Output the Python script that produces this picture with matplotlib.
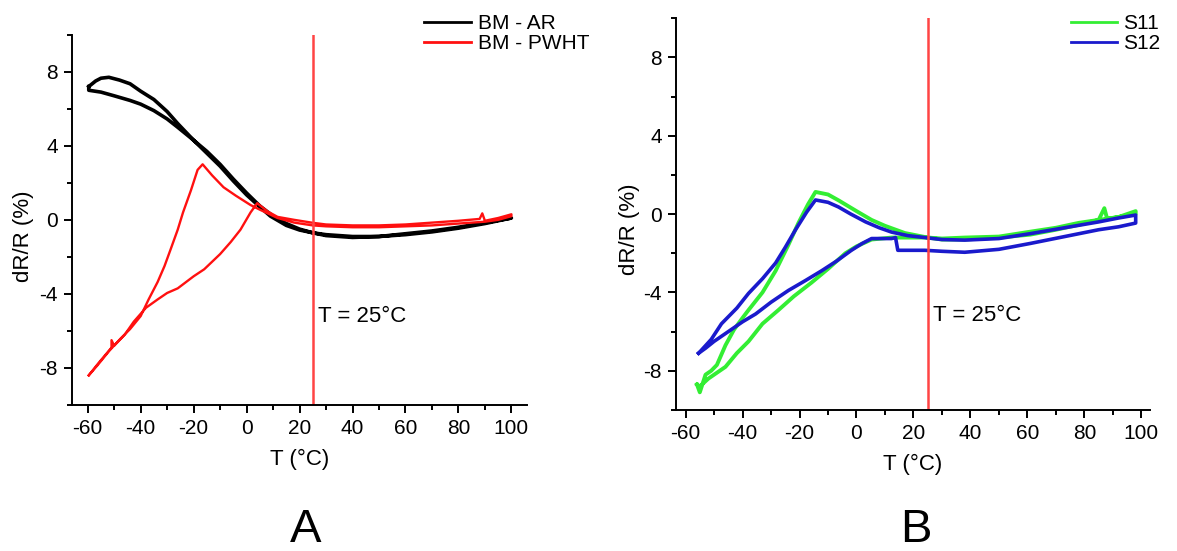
import numpy as np
import matplotlib.pyplot as plt

plt.rcParams['font.family'] = ['Liberation Sans', 'DejaVu Sans']
plt.rcParams['axes.unicode_minus'] = False

# ---- panel A data ----
ar_T = [-59.6, -57, -55, -52, -48, -44, -40, -35, -30, -26, -20, -15, -10, -5, 0, 5, 9, 15, 20,
        25, 30, 40, 50, 60, 70, 80, 90, 100,
        100, 90, 80, 70, 60, 50, 40, 30, 25, 20, 15, 10, 5, 0, -5, -10, -15, -20, -26, -30,
        -35, -40, -44, -50, -55, -59.6, -59.6]
ar_R = [7.2, 7.5, 7.65, 7.7, 7.55, 7.35, 6.95, 6.5, 5.85, 5.2, 4.3, 3.6, 2.9, 2.1, 1.35, 0.7, 0.2,
        -0.3, -0.55, -0.7, -0.85, -0.95, -0.9, -0.75, -0.6, -0.4, -0.15, 0.1,
        0.1, -0.2, -0.45, -0.65, -0.8, -0.9, -0.9, -0.8, -0.7, -0.5, -0.2, 0.2, 0.75, 1.45, 2.2,
        3.0, 3.7, 4.3, 5.0, 5.45, 5.9, 6.25, 6.45, 6.7, 6.9, 7.0, 7.2]

pwht_T = [-59.6, -56, -51, -51, -50, -46, -42.6, -38, -33.6, -30, -26, -20, -16, -10, -6,
          -2.3, 1.5, 4, 8, 11.7, 18, 25, 30, 40, 50, 60, 70, 80, 88, 89, 90, 95, 100,
          100, 95, 90, 80, 70, 60, 50, 40, 30, 25, 18, 11.7, 5, 1.5, -4, -8.7, -13, -16.6,
          -18.5, -21, -24, -26, -28.7, -31, -33.6, -37, -40, -44, -47.5, -52, -56.2, -59.6]
pwht_R = [-8.4, -7.75, -6.9, -6.5, -6.8, -6.2, -5.5, -4.75, -4.3, -3.95, -3.7, -3.05,
          -2.67, -1.85, -1.2, -0.53, 0.4, 0.9, 0.45, 0.16, 0.0, -0.16, -0.25, -0.3, -0.3,
          -0.25, -0.15, -0.05, 0.05, 0.35, -0.05, 0.1, 0.3,
          0.2, 0.0, -0.1, -0.2, -0.3, -0.35, -0.4, -0.4, -0.35, -0.3, -0.15, 0.1, 0.55,
          0.8, 1.3, 1.76, 2.4, 3.0, 2.7, 1.6, 0.4, -0.53, -1.6, -2.5, -3.36, -4.3, -5.2,
          -5.9, -6.4, -7.1, -7.84, -8.4]

# ---- panel B data ----
s12_T = [-55.4, -51, -47.4, -42, -37.9, -33, -28.4, -25, -21.4, -17.5, -14.4, -10, -6.3,
         -2, 3.2, 8, 12.3, 18, 24, 30, 38, 50, 61, 73, 85, 92, 98,
         98, 92, 85, 73, 61, 50, 38, 30, 24, 18, 14.5, 13.7, 12.3, 8, 5.3, 2, -1.8, -7,
         -12.3, -18, -23.9, -30, -35.4, -40, -45, -50, -53, -55.4]
s12_R = [-7.1, -6.4, -5.6, -4.8, -4.05, -3.3, -2.5, -1.7, -0.8, 0.1, 0.72, 0.6, 0.36,
         0.0, -0.4, -0.7, -0.92, -1.1, -1.2, -1.3, -1.33, -1.25, -1.0, -0.7, -0.4, -0.2, -0.05,
         -0.46, -0.65, -0.8, -1.15, -1.5, -1.8, -1.95, -1.9, -1.85, -1.85, -1.85, -1.2,
         -1.25, -1.25, -1.25, -1.5, -1.85, -2.4, -2.9, -3.4, -3.9, -4.5, -5.1, -5.5, -6.0,
         -6.5, -6.85, -7.1]

s11_T = [-56, -55, -53, -51, -49, -48.4, -46, -43, -40, -37.9, -33, -28.4, -24, -20.4,
         -17, -14.4, -10, -6.3, 0, 5.3, 10, 17, 25, 30, 38, 50, 61, 70, 78, 85, 87, 88,
         92, 98,
         98, 92, 85, 78, 70, 61, 50, 38, 30, 25, 18, 12.3, 5.3, 0, -3.9, -10, -15.8, -22,
         -27.4, -33, -37.9, -42, -46, -49, -52, -55, -56]
s11_R = [-8.7, -9.1, -8.2, -8.0, -7.7, -7.5, -6.7, -5.9, -5.3, -4.9, -4.0, -2.9, -1.6,
         -0.46, 0.5, 1.13, 1.0, 0.7, 0.15, -0.3, -0.6, -0.97, -1.2, -1.25, -1.2, -1.15, -0.9,
         -0.7, -0.45, -0.3, 0.3, -0.25, -0.15, 0.15,
         0.0, -0.15, -0.3, -0.55, -0.8, -1.05, -1.2, -1.3, -1.3, -1.2, -1.2, -1.2, -1.3,
         -1.65, -2.0, -2.8, -3.5, -4.2, -4.9, -5.6, -6.5, -7.1, -7.8, -8.1, -8.4, -8.8, -8.7]

T_ref = 25
xticks = [-60, -40, -20, 0, 20, 40, 60, 80, 100]
yticks = [-8, -4, 0, 4, 8]


def style_axis(ax, xmin, xmax):
    ax.set_xlim(xmin, xmax)
    ax.set_ylim(-10, 10)
    ax.set_xticks(xticks)
    ax.set_yticks(yticks)
    ax.set_xticks(np.arange(-50, 101, 10), minor=True)
    ax.set_yticks(np.arange(-10, 11, 2), minor=True)
    ax.spines['right'].set_visible(False)
    ax.spines['top'].set_visible(False)
    ax.spines['left'].set_linewidth(1.4)
    ax.spines['bottom'].set_linewidth(1.4)
    ax.tick_params(which='major', direction='out', length=6, width=1.4, labelsize=15, pad=4)
    ax.tick_params(which='minor', direction='out', length=3.5, width=1.4)
    ax.set_xlabel('T (°C)', fontsize=16, labelpad=8)
    ax.set_ylabel('dR/R (%)', fontsize=16)
    ax.axvline(T_ref, color='#ff4444', lw=1.8)
    ax.text(T_ref + 2, -5.2, 'T = 25°C', fontsize=16, va='center')


fig = plt.figure(figsize=(11.77, 5.51), dpi=100)

axA = fig.add_axes([0.061, 0.265, 0.387, 0.672])
axA.plot(ar_T, ar_R, color='black', lw=2.6, label='BM - AR')
axA.plot(pwht_T, pwht_R, color='#ff1010', lw=1.7, label='BM - PWHT')
style_axis(axA, -66, 106)
axA.yaxis.set_label_coords(-0.082, 0.455)
legA = axA.legend(loc='upper left', bbox_to_anchor=(0.351, 0.993), bbox_transform=fig.transFigure,
                  frameon=False, fontsize=15, handlelength=2.3, labelspacing=0.05,
                  handletextpad=0.3, borderpad=0)
for ln in legA.get_lines():
    ln.set_linewidth(2.0)

axB = fig.add_axes([0.574, 0.256, 0.403, 0.711])
axB.plot(s11_T, s11_R, color='#33ee33', lw=2.8, label='S11')
axB.plot(s12_T, s12_R, color='#1a1acc', lw=2.6, label='S12')
style_axis(axB, -63.5, 103)
axB.yaxis.set_label_coords(-0.075, 0.46)
legB = axB.legend(loc='upper left', bbox_to_anchor=(0.901, 0.993), bbox_transform=fig.transFigure,
                  frameon=False, fontsize=15, handlelength=2.2, labelspacing=0.05,
                  handletextpad=0.3, borderpad=0)
for ln in legB.get_lines():
    ln.set_linewidth(2.0)

fig.text(0.26, 0.016, 'A', fontsize=34, ha='center', va='baseline')
fig.text(0.778, 0.016, 'B', fontsize=34, ha='center', va='baseline')

fig.savefig('out.png', dpi=100)
